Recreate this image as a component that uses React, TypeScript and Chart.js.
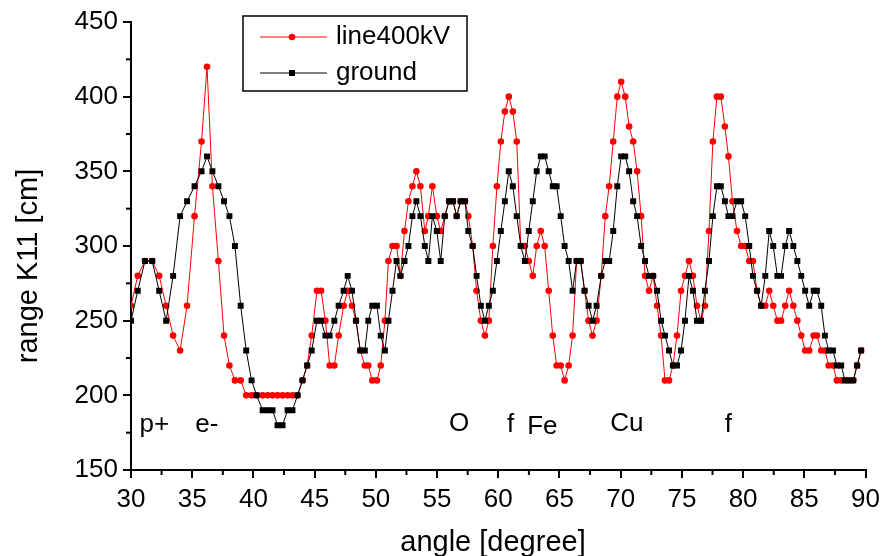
import React, { useEffect, useRef } from "react";
import { Chart, registerables } from "chart.js";

Chart.register(...registerables);

const angle: number[] = [
  30.0, 30.55, 31.14, 31.73, 32.3, 32.87, 33.44, 34.01, 34.58, 35.19,
  35.76, 36.21, 36.65, 37.14, 37.6, 38.04, 38.49, 38.96, 39.41, 39.85,
  40.26, 40.75, 41.16, 41.56, 41.97, 42.38, 42.79, 43.19, 43.6, 44.01,
  44.39, 44.76, 45.19, 45.53, 45.88, 46.23, 46.61, 46.96, 47.37, 47.7,
  48.05, 48.38, 48.73, 49.1, 49.38, 49.71, 50.09, 50.4, 50.74, 51.03,
  51.36, 51.69, 52.01, 52.34, 52.66, 52.99, 53.31, 53.64, 54.0, 54.29,
  54.62, 54.98, 55.3, 55.63, 55.98, 56.3, 56.6, 56.93, 57.28, 57.55,
  57.91, 58.23, 58.58, 58.91, 59.23, 59.56, 59.89, 60.21, 60.54, 60.86,
  61.19, 61.51, 61.84, 62.17, 62.49, 62.82, 63.14, 63.47, 63.79, 64.12,
  64.45, 64.77, 65.1, 65.42, 65.75, 66.07, 66.4, 66.73, 67.05, 67.38,
  67.7, 68.03, 68.41, 68.74, 69.06, 69.39, 69.72, 70.04, 70.37, 70.69,
  71.02, 71.34, 71.67, 71.99, 72.32, 72.65, 72.97, 73.3, 73.62, 73.95,
  74.27, 74.6, 74.93, 75.25, 75.58, 75.9, 76.23, 76.56, 76.88, 77.21,
  77.53, 77.86, 78.18, 78.51, 78.8, 79.13, 79.5, 79.84, 80.17, 80.5,
  80.8, 81.14, 81.47, 81.81, 82.13, 82.46, 82.8, 83.1, 83.44, 83.76,
  84.1, 84.43, 84.75, 85.07, 85.4, 85.76, 86.03, 86.38, 86.68, 86.99,
  87.34, 87.66, 88.01, 88.32, 88.66, 89.0, 89.31, 89.64,
];

const line400kV: number[] = [
  260, 280, 290, 290, 280, 260, 240, 230, 260, 320,
  370, 420, 340, 290, 240, 220, 210, 210, 200, 200,
  200, 200, 200, 200, 200, 200, 200, 200, 200, 210,
  220, 240, 270, 270, 250, 220, 220, 240, 260, 270,
  260, 250, 230, 220, 220, 210, 210, 220, 250, 290,
  300, 300, 280, 310, 330, 340, 350, 340, 310, 320,
  340, 320, 310, 320, 330, 330, 320, 330, 330, 320,
  300, 270, 250, 240, 250, 300, 340, 370, 390, 400,
  390, 370, 300, 300, 290, 280, 300, 310, 300, 270,
  240, 220, 220, 210, 220, 240, 290, 290, 270, 250,
  240, 250, 280, 320, 340, 370, 400, 410, 400, 380,
  370, 350, 320, 280, 270, 280, 260, 240, 210, 210,
  220, 240, 270, 280, 290, 280, 260, 250, 260, 310,
  370, 400, 400, 380, 360, 330, 310, 300, 300, 290,
  290, 270, 260, 260, 270, 260, 250, 250, 260, 270,
  260, 250, 240, 230, 230, 240, 240, 230, 230, 220,
  220, 210, 210, 210, 210, 210, 220, 230,
];

const ground: number[] = [
  250, 270, 290, 290, 270, 250, 280, 320, 330, 340,
  350, 360, 350, 340, 330, 320, 300, 260, 230, 210,
  200, 190, 190, 190, 180, 180, 190, 190, 200, 210,
  220, 230, 250, 250, 240, 240, 250, 260, 270, 280,
  270, 250, 230, 230, 250, 260, 260, 240, 230, 250,
  270, 290, 280, 290, 300, 320, 330, 320, 300, 290,
  320, 310, 290, 320, 330, 330, 320, 330, 330, 310,
  300, 280, 260, 250, 260, 270, 290, 310, 330, 350,
  340, 320, 300, 290, 310, 330, 350, 360, 360, 350,
  340, 340, 320, 300, 290, 270, 290, 290, 270, 260,
  250, 260, 280, 290, 290, 310, 340, 360, 360, 350,
  330, 320, 300, 290, 280, 280, 270, 250, 240, 230,
  220, 220, 230, 250, 280, 270, 250, 250, 270, 290,
  320, 340, 340, 330, 320, 320, 330, 330, 320, 300,
  280, 270, 260, 280, 310, 300, 280, 280, 300, 310,
  300, 290, 280, 270, 260, 270, 270, 260, 240, 230,
  230, 220, 220, 210, 210, 210, 220, 230,
];

const seriesNames = ["line400kV", "ground"];
const xTitle = "angle [degree]";
const yTitle = "range K11 [cm]";
const xMinorTicks = [32.5, 37.5, 42.5, 47.5, 52.5, 57.5, 62.5, 67.5, 72.5, 77.5, 82.5, 87.5];
const yMinorTicks = [175, 225, 275, 325, 375, 425];
const peakLabels = ["p+", "e-", "O", "f", "Fe", "Cu", "f"];
const peakLabelAngle = [31.9, 36.2, 56.8, 61.0, 63.6, 70.5, 78.8];
const peakLabelRange = [180, 180, 181, 180, 179, 181, 180];

const FONT = '"Liberation Sans", Arial, sans-serif';
const RED = "#ff0000";
const BLACK = "#000000";

const overlayPlugin = {
  id: "overlay",
  afterDraw(chart: any) {
    const ctx: CanvasRenderingContext2D = chart.ctx;
    const xs = chart.scales.x;
    const ys = chart.scales.y;
    const area = chart.chartArea;
    ctx.save();
    // minor ticks
    ctx.strokeStyle = BLACK;
    ctx.lineWidth = 2;
    xMinorTicks.forEach((v) => {
      const px = xs.getPixelForValue(v);
      ctx.beginPath();
      ctx.moveTo(px, area.bottom);
      ctx.lineTo(px, area.bottom + 5);
      ctx.stroke();
    });
    yMinorTicks.forEach((v) => {
      const py = ys.getPixelForValue(v);
      ctx.beginPath();
      ctx.moveTo(area.left, py);
      ctx.lineTo(area.left - 5, py);
      ctx.stroke();
    });
    // axis titles
    ctx.fillStyle = BLACK;
    ctx.font = `29px ${FONT}`;
    ctx.textAlign = "center";
    ctx.textBaseline = "middle";
    ctx.fillText(xTitle, 493, 543);
    ctx.save();
    ctx.translate(29, 266);
    ctx.rotate(-Math.PI / 2);
    ctx.fillText(yTitle, 0, 0);
    ctx.restore();
    // peak labels
    ctx.font = `26px ${FONT}`;
    peakLabels.forEach((t, i) => {
      ctx.fillText(t, xs.getPixelForValue(peakLabelAngle[i]), ys.getPixelForValue(peakLabelRange[i]));
    });
    // legend
    const bx = 243, by = 16, bw = 224, bh = 75;
    ctx.fillStyle = "#ffffff";
    ctx.fillRect(bx, by, bw, bh);
    ctx.strokeStyle = BLACK;
    ctx.lineWidth = 1.5;
    ctx.strokeRect(bx, by, bw, bh);
    const rows = [37, 73];
    const colors = [RED, BLACK];
    rows.forEach((ry, i) => {
      ctx.strokeStyle = colors[i];
      ctx.lineWidth = 1;
      ctx.beginPath();
      ctx.moveTo(260, ry);
      ctx.lineTo(327, ry);
      ctx.stroke();
      ctx.fillStyle = colors[i];
      if (i === 0) {
        ctx.beginPath();
        ctx.arc(292, ry, 3.3, 0, Math.PI * 2);
        ctx.fill();
      } else {
        ctx.fillRect(289, ry - 3, 6, 6);
      }
      ctx.fillStyle = BLACK;
      ctx.font = `26px ${FONT}`;
      ctx.textAlign = "left";
      ctx.textBaseline = "middle";
      ctx.fillText(seriesNames[i], 336, ry);
    });
    ctx.restore();
  },
};

export default function App() {
  const ref = useRef<HTMLCanvasElement>(null);
  useEffect(() => {
    const canvas = ref.current;
    if (!canvas) return;
    const chart = new Chart(canvas, {
      type: "line",
      data: {
        datasets: [
          {
            label: seriesNames[0],
            data: angle.map((a, i) => ({ x: a, y: line400kV[i] })),
            borderColor: RED,
            backgroundColor: RED,
            borderWidth: 1,
            pointStyle: "circle",
            pointRadius: 3.3,
            pointBorderWidth: 0,
            pointBackgroundColor: RED,
            tension: 0,
            order: 2,
          },
          {
            label: seriesNames[1],
            data: angle.map((a, i) => ({ x: a, y: ground[i] })),
            borderColor: BLACK,
            backgroundColor: BLACK,
            borderWidth: 1,
            pointStyle: "rect",
            pointRadius: 4.2,
            pointBorderWidth: 0,
            pointBackgroundColor: BLACK,
            tension: 0,
            order: 1,
          },
        ],
      },
      options: {
        responsive: false,
        animation: false,
        devicePixelRatio: 1,
        layout: { padding: { left: 8, top: 22, right: 18, bottom: 0 } },
        plugins: { legend: { display: false }, tooltip: { enabled: false } },
        scales: {
          x: {
            type: "linear",
            min: 30,
            max: 90,
            afterFit: (s: any) => {
              s.height = 86;
            },
            ticks: {
              stepSize: 5,
              color: BLACK,
              font: { family: FONT, size: 26 },
              padding: 6,
              maxRotation: 0,
              autoSkip: false,
            },
            grid: { drawOnChartArea: false, drawTicks: true, tickLength: 8, color: BLACK, lineWidth: 2 },
            border: { display: true, color: BLACK, width: 2 },
            title: { display: false },
          },
          y: {
            type: "linear",
            min: 150,
            max: 450,
            afterFit: (s: any) => {
              s.width = 123;
            },
            ticks: {
              stepSize: 50,
              color: BLACK,
              font: { family: FONT, size: 26 },
              padding: 5,
            },
            grid: { drawOnChartArea: false, drawTicks: true, tickLength: 8, color: BLACK, lineWidth: 2 },
            border: { display: true, color: BLACK, width: 2 },
            title: { display: false },
          },
        },
      } as any,
      plugins: [overlayPlugin],
    });
    return () => chart.destroy();
  }, []);
  return (
    <div style={{ position: "absolute", left: 0, top: 0, width: 886, height: 556, background: "#fff" }}>
      <canvas ref={ref} width={886} height={556} style={{ width: 886, height: 556, display: "block" }} />
    </div>
  );
}
